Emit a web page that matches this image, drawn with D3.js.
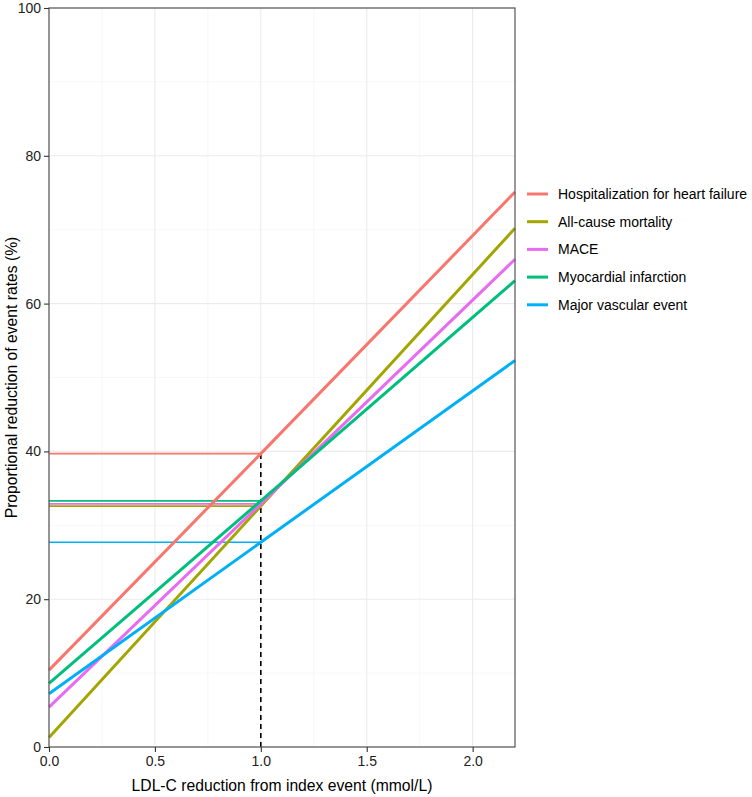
<!DOCTYPE html>
<html><head><meta charset="utf-8">
<script src="https://cdn.jsdelivr.net/npm/d3@7"></script>
<style>body{margin:0;background:#fff}svg{display:block;font-family:"Liberation Sans",Arial,sans-serif}</style>
</head><body><svg id="c" width="752" height="797"></svg>
<script>
const seriesNames = ["Hospitalization for heart failure","All-cause mortality","MACE","Myocardial infarction","Major vascular event"];
const seriesColors = ["#F8766D","#A3A500","#E76BF3","#00BF7D","#00B0F6"];
const xPoints = [0, 1, 2.2];
const hhfValues = [10.4, 39.7, 75.1];
const mortalityValues = [1.3, 32.6, 70.2];
const maceValues = [5.4, 32.9, 66.0];
const miValues = [8.6, 33.3, 63.1];
const mveValues = [7.2, 27.7, 52.3];
const xTicks = [0, 0.5, 1, 1.5, 2];
const yTicks = [0, 20, 40, 60, 80, 100];
const xMinor = [0.25, 0.75, 1.25, 1.75];
const yMinor = [10, 30, 50, 70, 90];
const allValues = [hhfValues, mortalityValues, maceValues, miValues, mveValues];

const svg = d3.select("#c");
const m = {l:49, t:8, r:515, b:747};
const x = d3.scaleLinear().domain([0, 2.2]).range([m.l, m.r]);
const y = d3.scaleLinear().domain([0, 100]).range([m.b, m.t]);

const g = svg.append("g");
// minor grid
g.selectAll(".vx").data(xMinor).join("line").attr("x1",d=>x(d)).attr("x2",d=>x(d)).attr("y1",m.t).attr("y2",m.b).attr("stroke","#F2F2F2").attr("stroke-width",0.6);
g.selectAll(".vy").data(yMinor).join("line").attr("y1",d=>y(d)).attr("y2",d=>y(d)).attr("x1",m.l).attr("x2",m.r).attr("stroke","#F2F2F2").attr("stroke-width",0.6);
// major grid
g.selectAll(".mx").data(xTicks).join("line").attr("x1",d=>x(d)).attr("x2",d=>x(d)).attr("y1",m.t).attr("y2",m.b).attr("stroke","#EBEBEB").attr("stroke-width",1.1);
g.selectAll(".my").data(yTicks).join("line").attr("y1",d=>y(d)).attr("y2",d=>y(d)).attr("x1",m.l).attr("x2",m.r).attr("stroke","#EBEBEB").attr("stroke-width",1.1);

const data = seriesNames.map((n,i)=>({name:n, color:seriesColors[i], vals:allValues[i]}));
// horizontal reference lines at x=1
g.selectAll(".h").data(data).join("line")
  .attr("x1",x(0)).attr("x2",x(1)).attr("y1",d=>y(d.vals[1])).attr("y2",d=>y(d.vals[1]))
  .attr("stroke",d=>d.color).attr("stroke-width",1.6);
// dashed vertical
g.append("line").attr("x1",x(1)).attr("x2",x(1)).attr("y1",y(0)).attr("y2",y(d3.max(data,d=>d.vals[1])))
  .attr("stroke","#000").attr("stroke-width",1.6).attr("stroke-dasharray","5,4");
// main lines
const line = d3.line().x((d,i)=>x(xPoints[i])).y(d=>y(d));
g.selectAll(".ln").data(data).join("path").attr("d",d=>line(d.vals)).attr("fill","none")
  .attr("stroke",d=>d.color).attr("stroke-width",3);

// border
svg.append("rect").attr("x",m.l).attr("y",m.t).attr("width",m.r-m.l).attr("height",m.b-m.t)
  .attr("fill","none").attr("stroke","#555").attr("stroke-width",1.2);

// axes
const xa = svg.append("g").attr("transform",`translate(0,${m.b})`)
  .call(d3.axisBottom(x).tickValues(xTicks).tickFormat(d3.format(".1f")).tickSizeOuter(0).tickSize(5).tickPadding(4));
const ya = svg.append("g").attr("transform",`translate(${m.l},0)`)
  .call(d3.axisLeft(y).tickValues(yTicks).tickSizeOuter(0).tickSize(5).tickPadding(3));
[xa,ya].forEach(a=>{a.select(".domain").remove();a.selectAll("line").attr("stroke","#333").attr("stroke-width",1.1);
  a.selectAll("text").attr("font-size",14).attr("fill","#222").attr("font-family","Liberation Sans, Arial, sans-serif");});

svg.append("text").attr("x",(m.l+m.r)/2).attr("y",791).attr("text-anchor","middle").attr("font-size",15.7).attr("fill","#000").text("LDL-C reduction from index event (mmol/L)");
svg.append("text").attr("transform",`translate(17,${(m.t+m.b)/2}) rotate(-90)`).attr("text-anchor","middle").attr("font-size",15.7).attr("fill","#000").text("Proportional reduction of event rates (%)");

// legend
const lg = svg.append("g").attr("transform","translate(527,194)");
const it = lg.selectAll("g").data(data).join("g").attr("transform",(d,i)=>`translate(0,${i*27.7})`);
it.append("line").attr("x1",0).attr("x2",21).attr("stroke",d=>d.color).attr("stroke-width",3);
it.append("text").attr("x",31).attr("y",5).attr("font-size",14).attr("fill","#000").text(d=>d.name);
</script></body></html>
